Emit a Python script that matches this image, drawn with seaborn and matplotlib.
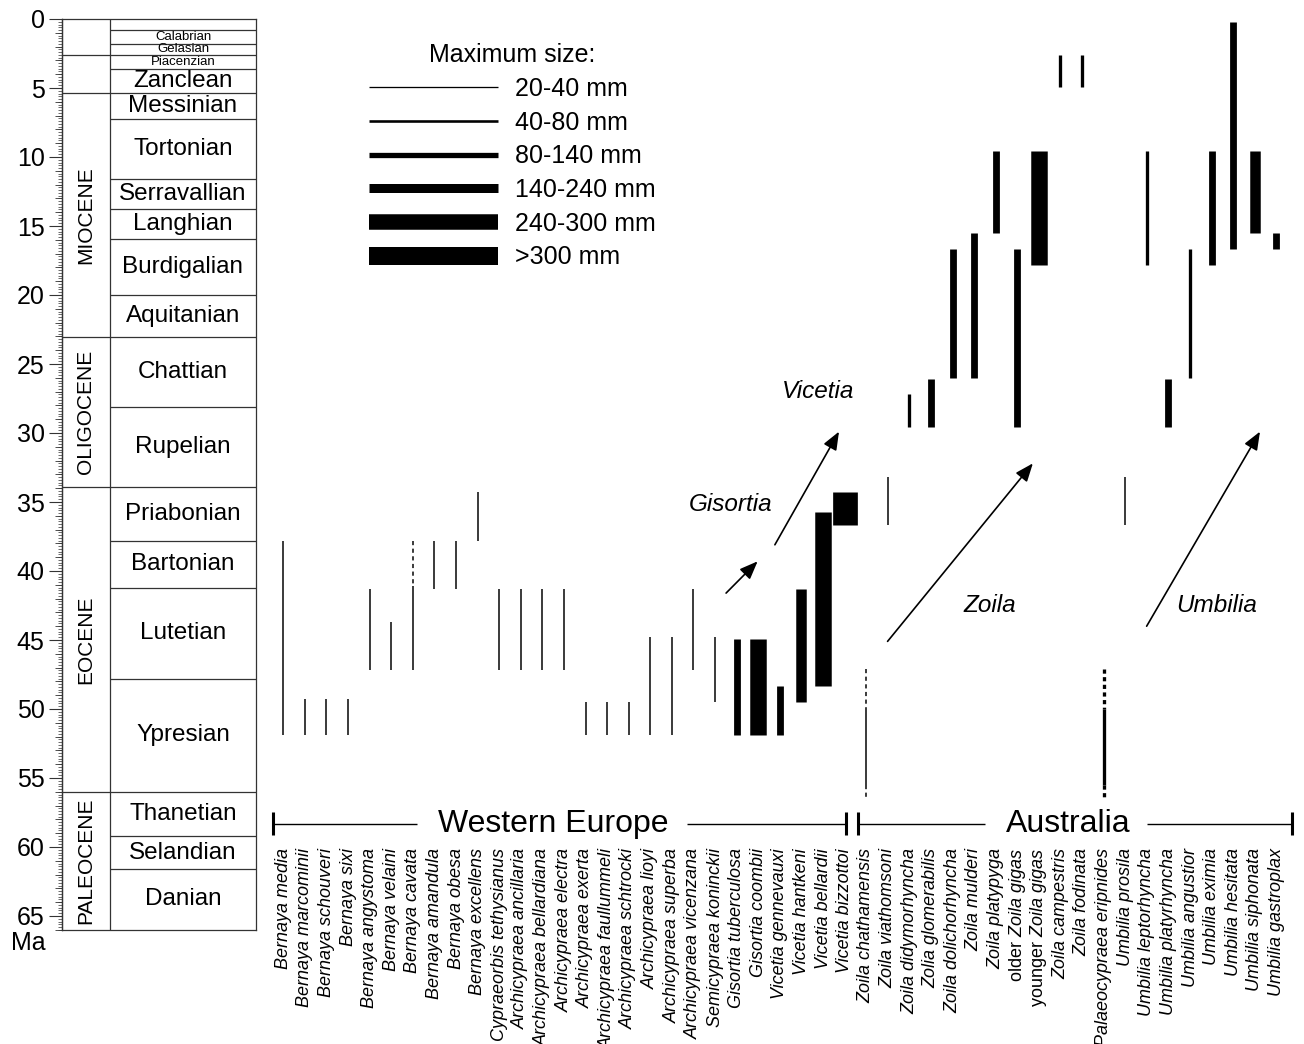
import numpy as np
import pandas as pd
import matplotlib
matplotlib.use("Agg")
import matplotlib.pyplot as plt
from matplotlib.lines import Line2D
from matplotlib.ticker import MultipleLocator
import seaborn as sns

# ------------------------------------------------------------------ data
stage_bounds = [0, 0.78, 1.8, 2.58, 3.6, 5.33, 7.25, 11.6, 13.8, 15.97, 20.0,
                23.03, 28.1, 33.9, 37.8, 41.2, 47.8, 56.0, 59.2, 61.6, 66.0]
stage_names = ["", "Calabrian", "Gelasian", "Piacenzian", "Zanclean", "Messinian",
               "Tortonian", "Serravallian", "Langhian", "Burdigalian", "Aquitanian",
               "Chattian", "Rupelian", "Priabonian", "Bartonian", "Lutetian",
               "Ypresian", "Thanetian", "Selandian", "Danian"]
epoch_bounds = [0, 2.58, 5.33, 23.03, 33.9, 56.0, 66.0]
epoch_names = ["", "", "MIOCENE", "OLIGOCENE", "EOCENE", "PALEOCENE"]
age_ticks = list(range(0, 70, 5))

species = [
    "Bernaya media", "Bernaya marcominii", "Bernaya schouveri", "Bernaya sixi",
    "Bernaya angystoma", "Bernaya velaini", "Bernaya cavata", "Bernaya amandula",
    "Bernaya obesa", "Bernaya excellens", "Cypraeorbis tethysianus",
    "Archicypraea ancillaria", "Archicypraea bellardiana", "Archicypraea electra",
    "Archicypraea exerta", "Archicypraea faullummeli", "Archicypraea schtrocki",
    "Archicypraea lioyi", "Archicypraea superba", "Archicypraea vicenzana",
    "Semicypraea koninckii", "Gisortia tuberculosa", "Gisortia coombii",
    "Vicetia gennevauxi", "Vicetia hantkeni", "Vicetia bellardii", "Vicetia bizzottoi",
    "Zoila chathamensis", "Zoila viathomsoni", "Zoila didymorhyncha",
    "Zolia glomerabilis", "Zoila dolichorhyncha", "Zoila mulderi", "Zoila platypyga",
    "older Zoila gigas", "younger Zoila gigas", "Zoila campestris", "Zoila fodinata",
    "Palaeocypraea eripnides", "Umbilia prosila", "Umbilia leptorhyncha",
    "Umbilia platyrhyncha", "Umbilia angustior", "Umbilia eximia", "Umbilia hesitata",
    "Umbilia siphonata", "Umbilia gastroplax"]
region = ["Western Europe"] * 27 + ["Australia"] * 20
# youngest (top) and oldest (bottom) age of the solid range, Ma
first_ma = [37.8, 49.3, 49.3, 49.3, 41.3, 43.7, 41.1, 37.8, 37.8, 34.3,
            41.3, 41.3, 41.3, 41.3, 49.5, 49.5, 49.5, 44.8, 44.8, 41.3,
            44.8, 44.9, 44.9, 48.3, 41.3, 35.7, 34.3,
            50.0, 33.2, 27.2, 26.1, 16.7, 15.5, 9.6, 16.7, 9.6, 2.6, 2.6,
            50.0, 33.2, 9.6, 26.1, 16.7, 9.6, 0.24, 9.6, 15.5]
last_ma = [51.9, 51.9, 51.9, 51.9, 47.2, 47.2, 47.2, 41.3, 41.3, 37.8,
           47.2, 47.2, 47.2, 47.2, 51.9, 51.9, 51.9, 51.9, 51.9, 47.2,
           49.5, 51.9, 51.9, 51.9, 49.5, 48.3, 36.7,
           55.5, 36.7, 29.6, 29.6, 26.0, 26.0, 15.5, 29.6, 17.8, 4.9, 4.9,
           55.5, 36.7, 17.8, 29.6, 26.0, 17.8, 16.7, 15.5, 16.7]
# maximum size class: 0=20-40, 1=40-80, 2=80-140, 3=140-240, 4=240-300, 5=>300 mm
size_class = [0, 0, 0, 0, 0, 0, 0, 0, 0, 0,
              0, 0, 0, 0, 0, 0, 0, 0, 0, 0,
              0, 2, 4, 2, 3, 4, 5,
              0, 0, 1, 2, 2, 2, 2, 2, 4, 1, 1,
              1, 0, 1, 2, 1, 2, 2, 3, 2]
# uncertain (dashed) extensions of ranges
dashed_species = ["Bernaya cavata", "Zoila chathamensis", "Zoila chathamensis",
                  "Palaeocypraea eripnides", "Palaeocypraea eripnides"]
dashed_top = [37.8, 47.1, 55.5, 47.1, 55.5]
dashed_bottom = [41.1, 50.0, 56.6, 50.0, 56.6]

size_labels = ["20-40 mm", "40-80 mm", "80-140 mm", "140-240 mm", "240-300 mm", ">300 mm"]
genera = ["Gisortia", "Vicetia", "Zoila", "Umbilia"]

df = pd.DataFrame({"species": species, "region": region, "first": first_ma,
                   "last": last_ma, "size": size_class})
df["pos"] = np.arange(len(df))

# ------------------------------------------------------------------ style
sns.set_theme(style="white", rc={"text.color": "black", "axes.labelcolor": "black",
                                 "xtick.color": "black", "ytick.color": "black",
                                 "axes.edgecolor": "#333333"})
plt.rcParams["font.family"] = ["Liberation Sans", "DejaVu Sans"]
plt.rcParams["mathtext.fontset"] = "custom"
plt.rcParams["mathtext.rm"] = "Liberation Sans"
plt.rcParams["mathtext.it"] = "Liberation Sans:italic"
plt.rcParams["lines.scale_dashes"] = False

W, H = 1304, 1044
fig = plt.figure(figsize=(W / 100, H / 100), dpi=100)
fig.patch.set_facecolor("white")

PX = 0.72  # points per pixel
class_px = [1.5, 3.3, 6.8, 10.5, 16.5, 24.7]
legend_px = [1.3, 2.6, 5.3, 9.0, 15.5, 18.0]
edge = "#333333"

top_px, bot_px = 19.0, 929.8
ax_bottom = 1 - bot_px / H
ax_height = (bot_px - top_px) / H

# ------------------------------------------------------------------ time scale
ax_t = fig.add_axes([62 / W, ax_bottom, 194 / W, ax_height])
ax_t.set_xlim(0, 1)
ax_t.set_ylim(66, 0)
div = 48 / 194
ax_t.hlines(epoch_bounds[1:-1], 0, div, color=edge, lw=0.9)
ax_t.hlines(stage_bounds[1:-1], div, 1, color=edge, lw=0.9)
ax_t.axvline(div, color=edge, lw=0.9)
for sp in ax_t.spines.values():
    sp.set_visible(True)
    sp.set_linewidth(0.9)
    sp.set_color(edge)
ax_t.set_xticks([])
ax_t.set_yticks(age_ticks)
ax_t.set_yticklabels([str(t) for t in age_ticks], fontsize=18, color="black")
ax_t.yaxis.set_minor_locator(MultipleLocator(0.2))
ax_t.tick_params(axis="y", which="major", direction="out", length=9.5, width=0.8,
                 pad=3, color=edge, left=True, labelcolor="black")
ax_t.tick_params(axis="y", which="minor", direction="out", length=3.0, width=0.5,
                 color=edge, left=True)
sec = ax_t.secondary_yaxis("left")
sec.set_yticks(np.arange(0, 67, 1))
sec.tick_params(axis="y", length=5.0, width=0.6, color=edge, labelleft=False)
sec.spines["left"].set_color(edge)
sec.spines["left"].set_linewidth(0.9)

small = {"Calabrian", "Gelasian", "Piacenzian"}
for a, b, n in zip(stage_bounds[:-1], stage_bounds[1:], stage_names):
    if n:
        ax_t.text((div + 1) / 2, (a + b) / 2, n, ha="center", va="center",
                  fontsize=9.5 if n in small else 17.5, color="black")
for a, b, n in zip(epoch_bounds[:-1], epoch_bounds[1:], epoch_names):
    if n:
        ax_t.text(div / 2, (a + b) / 2, n, ha="center", va="center",
                  rotation=90, fontsize=15, color="black")
fig.text(28 / W, 1 - 943 / H, "Ma", ha="center", va="center", fontsize=18,
         color="black")

# ------------------------------------------------------------------ main panel
ax = fig.add_axes([272.5 / W, ax_bottom, 1019 / W, ax_height])
ax.set_xlim(-0.5, 46.7)
ax.set_ylim(66, 0)
ax.axis("off")

ax.vlines(df["pos"], df["first"], df["last"], colors="black",
          linewidths=[class_px[c] * PX for c in df["size"]])
dpos = [species.index(s) for s in dashed_species]
ax.vlines(dpos, dashed_top, dashed_bottom, colors="black",
          linewidths=[class_px[size_class[i]] * PX for i in dpos],
          linestyles=[(0, (3, 2.5))] * len(dpos))

# region bar
yreg = 58.3
for a, b in [(-0.5, 6.19), (18.69, 26.06), (26.6, 32.5), (39.99, 46.7)]:
    ax.plot([a, b], [yreg, yreg], color="black", lw=1.0, clip_on=False,
            solid_capstyle="butt")
ax.vlines([-0.5, 26.06, 26.6, 46.7], yreg - 0.8, yreg + 0.8, colors="black",
          linewidths=2.2, clip_on=False)
ax.text(12.5, 58.9, "Western Europe", ha="center", va="baseline", fontsize=23,
        color="black")
ax.text(36.35, 58.9, "Australia", ha="center", va="baseline", fontsize=23,
        color="black")

# species labels
for i, s in enumerate(species):
    if s.startswith(("older ", "younger ")):
        pre, rest = s.split(" ", 1)
        lab = pre + r" $\mathit{" + rest.replace(" ", r"\ ") + "}$"
        style = "normal"
    else:
        lab, style = s, "italic"
    ax.text(i, 60.1, lab, rotation=90, ha="center", va="top", fontsize=13,
            style=style, clip_on=False, color="black")

# genus arrows
arrows = {"Gisortia": ((20.51, 41.6), (21.97, 39.3), (20.74, 35.2)),
          "Vicetia": ((22.77, 38.1), (25.74, 29.9), (24.77, 27.0)),
          "Zoila": ((27.99, 45.1), (34.72, 32.2), (32.73, 42.5)),
          "Umbilia": ((39.99, 44.0), (45.24, 29.9), (43.25, 42.5))}
for g in genera:
    tail, head, lab = arrows[g]
    ax.annotate("", xy=head, xytext=tail,
                arrowprops=dict(arrowstyle="-|>,head_length=0.55,head_width=0.22",
                                color="black", lw=1.2, shrinkA=0, shrinkB=0,
                                mutation_scale=20))
    ax.text(lab[0], lab[1], g, ha="center", va="center", fontsize=17.5,
            style="italic", color="black")

# size legend
handles = [Line2D([0], [0], color="black", lw=w * PX, solid_capstyle="butt")
           for w in legend_px]
leg = ax.legend(handles, size_labels, title="Maximum size:", title_fontsize=18,
                fontsize=18, frameon=False, handlelength=5.16, handletextpad=0.68,
                labelspacing=0.39, loc="upper left", borderpad=0, borderaxespad=0,
                bbox_to_anchor=(369 / W, 1 - 43 / H), bbox_transform=fig.transFigure)
for t in leg.get_texts():
    t.set_color("black")
leg.get_title().set_color("black")

fig.savefig("out.png", dpi=100, facecolor="white")
